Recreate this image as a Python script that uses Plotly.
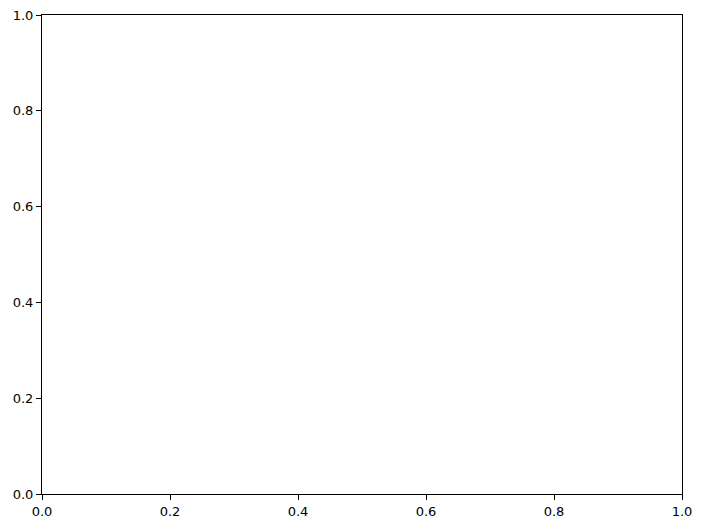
import plotly.graph_objects as go

# empty axes, only the tick marks carry values
x_ticks = [0.0, 0.2, 0.4, 0.6, 0.8, 1.0]
y_ticks = [0.0, 0.2, 0.4, 0.6, 0.8, 1.0]

fig = go.Figure()
fig.add_trace(go.Scatter(x=[], y=[], mode="markers", showlegend=False))

axis_style = dict(
    range=[0, 1],
    showgrid=False,
    zeroline=False,
    showline=True,
    linecolor="black",
    linewidth=1,
    mirror=True,
    ticks="outside",
    ticklen=5,
    tickwidth=1,
    tickcolor="black",
    tickformat=".1f",
    tickfont=dict(family="DejaVu Sans", size=13, color="black"),
    automargin=False,
    ticklabeloverflow="allow",
)

fig.update_xaxes(tickvals=x_ticks, **axis_style)
fig.update_yaxes(tickvals=y_ticks, **axis_style)

# page adds ~8px body margin, so the plot box is pulled up/left to match
fig.update_layout(
    width=686,
    height=513,
    margin=dict(l=34, r=12, t=7, b=27),
    plot_bgcolor="white",
    paper_bgcolor="white",
)

fig.write_html("out.html")
